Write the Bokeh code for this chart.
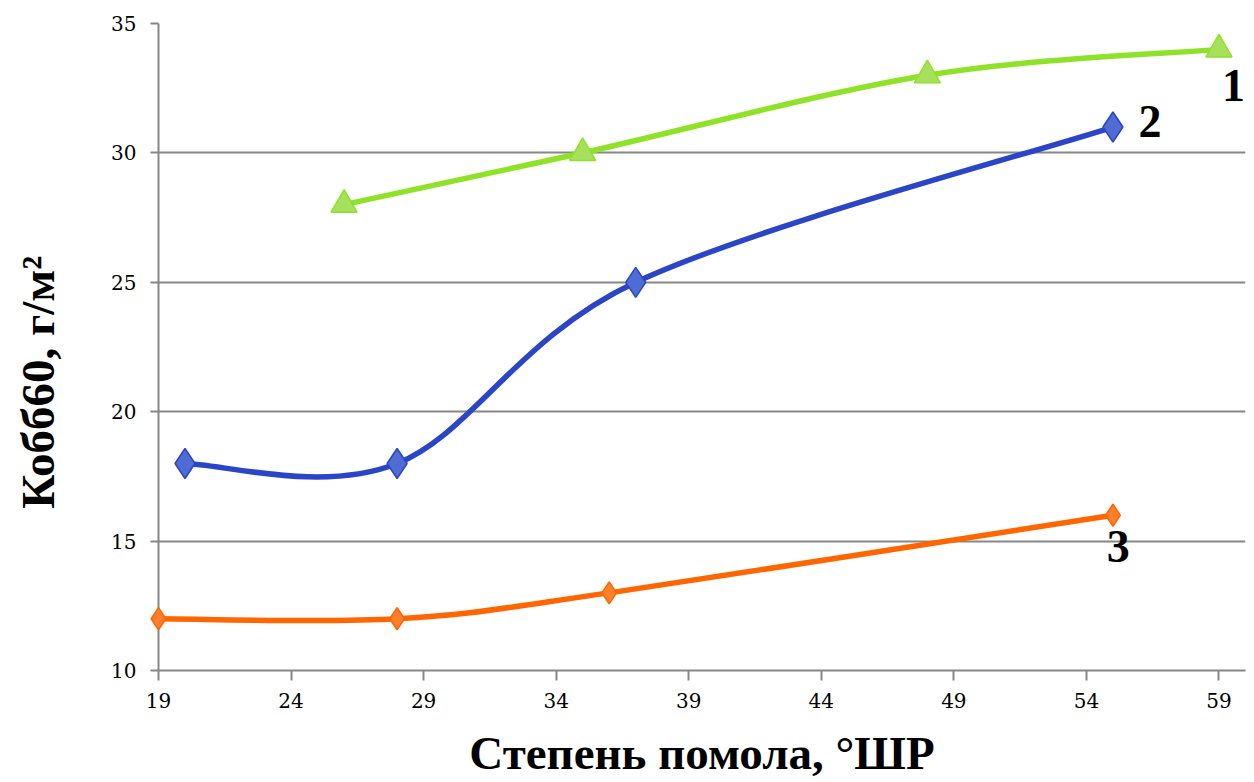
from bokeh.plotting import figure
from bokeh.models import Range1d, FixedTicker, Label
from bokeh.embed import file_html
from bokeh.resources import INLINE

# ---- data ----
x_ticks = [19, 24, 29, 34, 39, 44, 49, 54, 59]
y_ticks = [10, 15, 20, 25, 30, 35]

s1_x = [26, 35, 48, 59]
s1_y = [28, 30, 33, 34]
s2_x = [20, 28, 37, 55]
s2_y = [18, 18, 25, 31]
s3_x = [19, 28, 36, 55]
s3_y = [12, 12, 13, 16]
series_labels = ["1", "2", "3"]

x_title = "Степень помола, °ШР"
y_title = "Кобб60, г/м²"


def smooth_segments(xs, ys):
    """Bezier control points for a smoothed (Catmull-Rom style) line through the data."""
    n = len(xs)
    out = dict(x0=[], y0=[], x1=[], y1=[], cx0=[], cy0=[], cx1=[], cy1=[])
    for i in range(n - 1):
        im = max(i - 1, 0)
        ip = min(i + 2, n - 1)
        out["x0"].append(xs[i]); out["y0"].append(ys[i])
        out["x1"].append(xs[i + 1]); out["y1"].append(ys[i + 1])
        out["cx0"].append(xs[i] + (xs[i + 1] - xs[im]) / 6.0)
        out["cy0"].append(ys[i] + (ys[i + 1] - ys[im]) / 6.0)
        out["cx1"].append(xs[i + 1] - (xs[ip] - xs[i]) / 6.0)
        out["cy1"].append(ys[i + 1] - (ys[ip] - ys[i]) / 6.0)
    return out


p = figure(width=1254, height=782, output_backend="svg", toolbar_location=None,
           x_range=Range1d(19, 60), y_range=Range1d(10, 35),
           min_border_left=158, min_border_right=9, min_border_top=23, min_border_bottom=112)
p.outline_line_color = None
p.background_fill_color = "white"
p.border_fill_color = "white"

grey = "#878787"
p.xgrid.grid_line_color = None
p.ygrid.grid_line_color = grey
p.ygrid.grid_line_width = 2

for ax in (p.xaxis[0], p.yaxis[0]):
    ax.axis_line_color = grey
    ax.axis_line_width = 2
    ax.major_tick_line_color = grey
    ax.major_tick_line_width = 2
    ax.major_tick_in = 0
    ax.minor_tick_line_color = None
    ax.major_label_text_font = "DejaVu Serif"
    ax.major_label_text_font_size = "20px"
    ax.major_label_text_color = "black"
    ax.axis_label_text_font = "Liberation Serif"
    ax.axis_label_text_font_style = "bold"
    ax.axis_label_text_font_size = "47px"
    ax.axis_label_text_color = "black"

p.xaxis[0].ticker = FixedTicker(ticks=x_ticks)
p.yaxis[0].ticker = FixedTicker(ticks=y_ticks)
p.xaxis[0].major_tick_out = 10
p.yaxis[0].major_tick_out = 8
p.xaxis[0].major_label_standoff = 12
p.yaxis[0].major_label_standoff = 14
p.xaxis[0].axis_label = x_title
# en-spaces at the end shift the rotated title downward, as in the reference
p.yaxis[0].axis_label = y_title + "\u2002\u2002\u2002"
p.xaxis[0].axis_label_standoff = 16
p.yaxis[0].axis_label_standoff = 44

series = [
    (s1_x, s1_y, "#8ee227", "#a6e05c", "triangle", 26),
    (s2_x, s2_y, "#2a45c8", "#4f6cd2", "diamond", 30),
    (s3_x, s3_y, "#ff6600", "#ff7f2a", "diamond", 22),
]
for xs, ys, lc, fc, marker, size in series:
    seg = smooth_segments(xs, ys)
    p.bezier(x0="x0", y0="y0", x1="x1", y1="y1", cx0="cx0", cy0="cy0", cx1="cx1", cy1="cy1",
             source=seg, line_color=lc, line_width=5.5, line_cap="round")
    p.scatter(xs, ys, marker=marker, size=size, fill_color=fc, line_color=lc, line_width=1.5,
              level="overlay")

label_pos = [(59.55, 32.6), (56.4, 31.2), (55.2, 14.8)]
for txt, (lx, ly) in zip(series_labels, label_pos):
    p.add_layout(Label(x=lx, y=ly, text=txt, text_font="Liberation Serif", text_font_style="bold",
                       text_font_size="46px", text_align="center", text_baseline="middle",
                       text_color="black"))

open("out.html", "w").write(file_html(p, INLINE))
